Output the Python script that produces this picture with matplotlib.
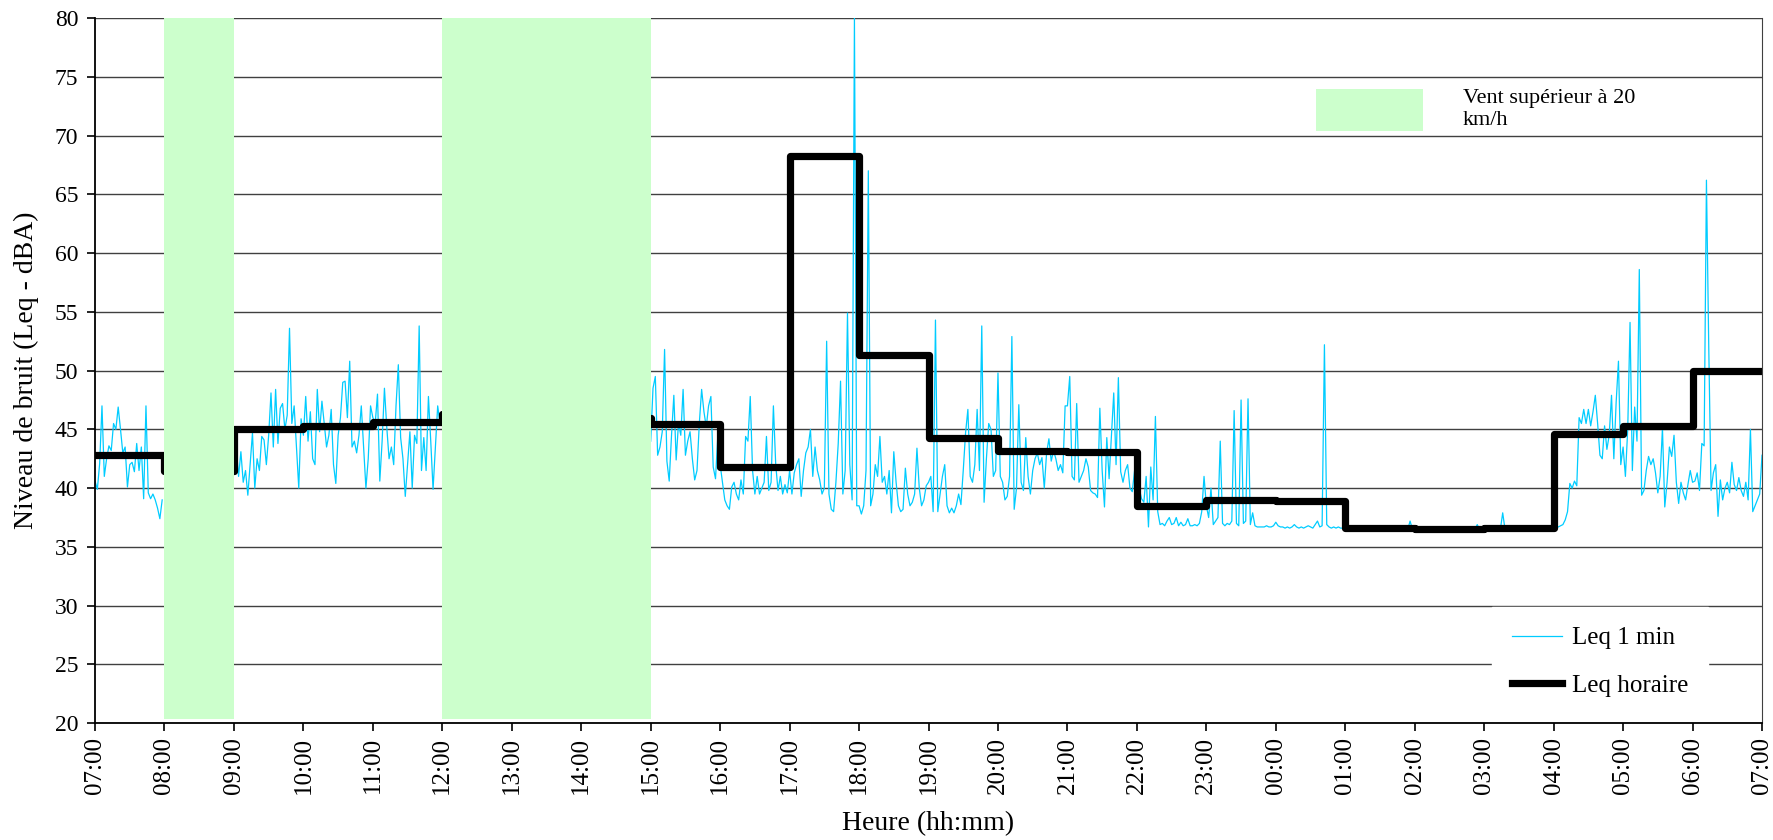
import matplotlib

matplotlib.use("Agg")
import matplotlib.pyplot as plt
import numpy as np
from matplotlib.patches import Patch

# hour labels, 07:00 -> 07:00 next day
hour_labels = ["07:00", "08:00", "09:00", "10:00", "11:00", "12:00", "13:00", "14:00",
               "15:00", "16:00", "17:00", "18:00", "19:00", "20:00", "21:00", "22:00",
               "23:00", "00:00", "01:00", "02:00", "03:00", "04:00", "05:00", "06:00", "07:00"]

# hourly Leq (dBA), one value per hour starting 07:00
leq_horaire = [42.8, 41.5, 45.0, 45.3, 45.6, 46.3, 46.5, 46.0, 45.5, 41.8, 68.3, 51.3,
               44.3, 43.2, 43.1, 38.5, 39.0, 38.9, 36.6, 36.5, 36.6, 44.6, 45.3, 50.0]

# windy periods (> 20 km/h), hours after 07:00
wind_start = [1, 5]
wind_length = [1, 3]

# Leq 1 min, read every 2 minutes, one list per hour (None = hidden under wind band)
leq_07h = [40.6, 39.9, 42.1, 47.0, 41.0, 42.5, 43.6, 43.2, 45.5, 45.0, 46.9, 45.0, 43.0, 43.5, 40.1,
           42.0, 42.2, 41.4, 43.8, 41.5, 43.5, 39.1, 47.0, 39.6, 39.1, 39.5, 39.0, 38.3, 37.4, 39.0]
leq_08h = None
leq_09h = [41.6, 43.4, 41.0, 43.1, 40.5, 41.5, 39.4, 42.0, 44.7, 40.0, 42.5, 41.5, 44.4, 44.1, 42.0,
           44.5, 48.1, 43.5, 48.4, 43.8, 46.8, 47.2, 45.0, 46.2, 53.6, 45.5, 47.0, 43.5, 40.0, 45.9]
leq_10h = [44.5, 47.8, 44.0, 46.5, 42.5, 42.0, 48.4, 44.8, 47.4, 45.5, 43.5, 44.5, 46.7, 42.0, 40.4,
           44.5, 46.0, 49.0, 49.1, 46.0, 50.8, 43.5, 44.0, 43.0, 44.5, 47.0, 43.5, 40.0, 42.5, 47.0]
leq_11h = [46.0, 45.5, 48.0, 40.6, 44.0, 48.5, 45.2, 42.5, 43.5, 42.0, 47.0, 50.5, 44.3, 42.5, 39.3,
           42.0, 44.8, 40.0, 44.5, 43.8, 53.8, 41.5, 44.3, 41.5, 47.8, 44.0, 39.9, 43.5, 47.0, 45.5]
leq_12h = None
leq_13h = None
leq_14h = None
leq_15h = [44.0, 48.5, 49.5, 42.8, 43.5, 44.8, 51.8, 42.3, 40.6, 44.5, 47.9, 42.4, 45.5, 44.5, 48.4,
           42.8, 44.0, 44.8, 42.5, 40.7, 41.5, 45.5, 48.4, 46.5, 45.2, 47.0, 47.8, 41.8, 40.8, 44.5]
leq_16h = [42.0, 40.5, 39.0, 38.5, 38.2, 40.1, 40.5, 39.5, 39.0, 40.7, 39.5, 44.4, 44.0, 47.8, 41.5,
           39.5, 41.0, 39.5, 40.0, 40.5, 44.4, 39.8, 40.5, 47.0, 42.0, 39.8, 41.0, 39.5, 40.3, 39.6]
leq_17h = [41.5, 39.5, 41.3, 42.0, 42.5, 39.3, 41.5, 43.0, 43.5, 45.0, 41.0, 43.5, 41.5, 40.7, 39.5,
           40.0, 52.5, 39.5, 38.2, 38.0, 40.5, 43.8, 49.1, 39.5, 41.5, 54.9, 42.0, 39.0, 80.0, 38.5]
leq_18h = [38.5, 37.8, 38.5, 41.5, 67.0, 38.5, 39.5, 42.0, 41.0, 44.4, 40.5, 41.0, 39.5, 41.5, 37.9,
           43.1, 40.5, 38.5, 38.0, 38.2, 41.7, 39.5, 38.5, 38.8, 39.5, 43.4, 40.0, 38.5, 39.0, 40.2]
leq_19h = [40.5, 41.0, 38.0, 54.3, 38.0, 39.5, 41.0, 42.0, 38.5, 37.9, 38.3, 37.9, 38.5, 39.5, 38.6,
           41.5, 44.7, 46.7, 41.0, 40.5, 42.0, 46.7, 41.5, 53.8, 38.8, 42.5, 45.5, 45.0, 41.0, 41.5]
leq_20h = [49.8, 41.0, 40.5, 39.0, 39.3, 41.0, 52.9, 38.2, 40.0, 47.1, 40.5, 39.8, 44.3, 41.0, 39.5,
           41.5, 42.5, 43.0, 42.0, 42.6, 40.0, 43.0, 44.2, 42.3, 43.2, 42.5, 41.5, 42.0, 41.3, 47.0]
leq_21h = [47.0, 49.5, 41.0, 40.7, 47.2, 40.5, 41.0, 41.5, 42.5, 41.8, 39.8, 39.6, 39.5, 39.2, 46.8,
           41.5, 38.4, 44.3, 40.8, 44.5, 48.1, 42.0, 49.4, 41.4, 40.5, 41.5, 42.0, 40.0, 39.7, 41.5]
leq_22h = [40.5, 40.0, 39.1, 38.8, 41.0, 36.7, 41.8, 39.0, 46.1, 38.0, 36.9, 37.0, 36.8, 37.2, 37.5,
           36.9, 37.0, 37.5, 36.8, 37.1, 36.8, 36.9, 37.4, 36.8, 36.8, 36.9, 36.8, 37.0, 38.0, 41.0]
leq_23h = [38.5, 37.5, 40.0, 36.9, 37.2, 37.5, 44.0, 37.0, 36.8, 37.0, 36.9, 37.2, 46.6, 37.0, 36.8,
           47.5, 37.0, 37.2, 47.6, 36.9, 37.9, 36.8, 36.7, 36.7, 36.7, 36.7, 36.8, 36.7, 36.7, 36.8]
leq_00h = [37.1, 36.8, 36.7, 36.7, 36.6, 36.7, 36.6, 36.7, 36.9, 36.7, 36.6, 36.7, 36.6, 36.7, 36.8,
           36.7, 36.6, 36.9, 37.2, 36.7, 36.8, 52.2, 36.9, 36.7, 36.6, 36.7, 36.6, 36.7, 36.6, 36.6]
leq_01h = [36.5, 36.5, 36.5, 36.5, 36.5, 36.5, 36.5, 36.5, 36.5, 36.5, 36.5, 36.5, 36.5, 36.5, 36.5,
           36.5, 36.5, 36.5, 36.5, 36.5, 36.5, 36.5, 36.5, 36.5, 36.5, 36.5, 36.5, 36.5, 37.2, 36.5]
leq_02h = [36.5, 36.5, 36.5, 36.5, 36.5, 36.5, 36.5, 36.5, 36.5, 36.5, 36.5, 36.5, 36.5, 36.5, 36.5,
           36.5, 36.5, 36.5, 36.5, 36.5, 36.5, 36.5, 36.5, 36.5, 36.5, 36.5, 36.5, 36.9, 36.5, 36.5]
leq_03h = [36.5, 36.5, 36.5, 36.5, 36.5, 36.5, 36.5, 36.5, 37.9, 36.5, 36.5, 36.5, 36.5, 36.5, 36.5,
           36.5, 36.5, 36.5, 36.5, 36.5, 36.5, 36.5, 36.5, 36.5, 36.5, 36.5, 36.5, 36.5, 36.5, 36.5]
leq_04h = [36.6, 36.6, 36.7, 36.8, 36.9, 37.3, 38.0, 40.4, 40.0, 40.6, 40.2, 46.0, 45.5, 46.7, 45.5,
           46.7, 45.3, 46.5, 47.9, 45.5, 42.8, 42.5, 45.3, 43.3, 44.5, 47.9, 42.5, 47.3, 50.8, 42.0]
leq_05h = [43.5, 41.0, 45.0, 54.1, 41.5, 46.9, 44.0, 58.6, 39.4, 39.8, 41.5, 42.7, 42.0, 42.5, 41.3,
           39.6, 41.0, 45.1, 38.4, 40.5, 43.5, 42.7, 44.5, 40.5, 38.7, 40.5, 39.6, 39.0, 40.3, 41.5]
leq_06h = [40.5, 40.6, 41.3, 39.8, 43.8, 43.6, 66.2, 52.0, 39.8, 41.3, 42.0, 37.6, 40.7, 39.0, 40.0,
           40.5, 39.6, 42.2, 40.3, 39.8, 40.9, 39.8, 39.3, 40.5, 39.0, 45.0, 38.0, 38.5, 39.0, 39.5]
leq_final = 42.8  # value at 07:00 next day

hourly_lists = [leq_07h, leq_08h, leq_09h, leq_10h, leq_11h, leq_12h, leq_13h, leq_14h,
                leq_15h, leq_16h, leq_17h, leq_18h, leq_19h, leq_20h, leq_21h, leq_22h,
                leq_23h, leq_00h, leq_01h, leq_02h, leq_03h, leq_04h, leq_05h, leq_06h]

leq_1min = []
for vals in hourly_lists:
    leq_1min.extend(vals if vals is not None else [np.nan] * 30)
leq_1min.append(leq_final)
leq_1min = np.array(leq_1min, dtype=float)
t_1min = np.arange(len(leq_1min)) / 30.0

plt.rcParams["font.family"] = ["Liberation Serif", "DejaVu Serif"]

fig = plt.figure(figsize=(17.73, 8.40), dpi=100)
ax = fig.add_axes([0.0536, 0.139, 0.9402, 0.8396])

ax.plot(t_1min, leq_1min, color="#00CCFF", linewidth=0.9, label="Leq 1 min", zorder=2)
t_hour = np.arange(len(leq_horaire) + 1)
ax.plot(t_hour, leq_horaire + [leq_horaire[-1]], drawstyle="steps-post",
        color="black", linewidth=5.2, label="Leq horaire", zorder=2.5)

ax.bar(wind_start, [59.6] * len(wind_start), width=wind_length, bottom=20.4,
       align="edge", color="#CCFFCC", linewidth=0, zorder=3)

ax.set_xlim(0, 24)
ax.set_ylim(20, 80)
ax.set_xticks(range(25))
ax.set_xticklabels(hour_labels, rotation=90, fontsize=18)
ax.set_yticks(range(20, 81, 5))
ax.tick_params(axis="y", labelsize=17, direction="out", length=6, width=1.2, pad=6)
ax.tick_params(axis="x", direction="out", length=6, width=1.2, pad=4)
ax.yaxis.grid(True, color="#404040", linewidth=1.0, zorder=1)
ax.set_axisbelow(True)
ax.spines["top"].set_visible(False)
ax.spines["left"].set_linewidth(1.3)
ax.spines["bottom"].set_linewidth(1.3)
ax.spines["right"].set_color("#404040")

ax.set_ylabel("Niveau de bruit (Leq - dBA)", fontsize=20, labelpad=11)
ax.set_xlabel("Heure (hh:mm)", fontsize=20, labelpad=12)

leg = ax.legend(loc="center", bbox_to_anchor=(0.903, 0.087), frameon=True, fontsize=18,
                handlelength=2.0, handletextpad=0.4, borderpad=0.8, labelspacing=1.0,
                fancybox=False)
leg.get_frame().set_edgecolor("white")
leg.get_frame().set_alpha(1.0)
ax.add_artist(leg)

wind_leg = ax.legend(handles=[Patch(facecolor="#CCFFCC", edgecolor="none")],
                     labels=["Vent supérieur à 20\nkm/h"], loc="center left",
                     bbox_to_anchor=(0.7325, 0.8695), frameon=False, fontsize=16,
                     handlelength=4.8, handleheight=2.5, handletextpad=1.8, borderpad=0,
                     borderaxespad=0)

fig.savefig("out.png", dpi=100)
